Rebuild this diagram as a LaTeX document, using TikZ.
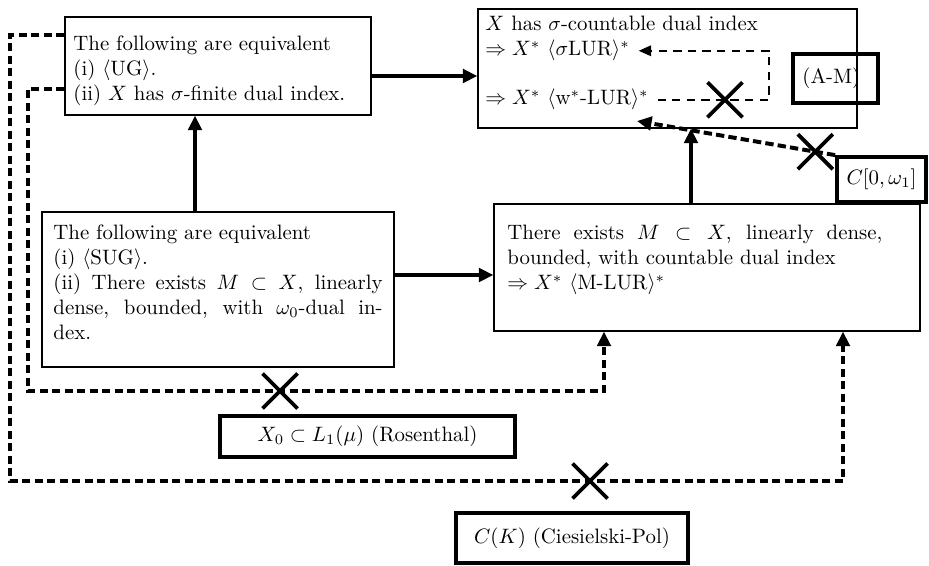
\documentclass[tikz,border=0pt]{standalone}
\usetikzlibrary{arrows.meta,shapes.misc,fit,calc}
\begin{document}
\begin{tikzpicture}[x=0.48pt,y=-0.48pt,
  box/.style={draw, line width=0.6pt, inner sep=0pt},
  thickbox/.style={draw, line width=1.8pt, inner sep=0pt},
  txt/.style={inner sep=0pt, align=left},
  partxt/.style={inner sep=0pt, align=justify, anchor=north west},
  solidarrow/.style={line width=2pt, -{Triangle[length=7pt,width=6.5pt]}},
  thickdash/.style={line width=1.9pt, dash pattern=on 4pt off 2pt, -{Triangle[length=7pt,width=6.5pt]}},
  thindash/.style={line width=1pt, dash pattern=on 4pt off 3pt, -{Triangle[length=6pt,width=5pt]}},
  xmark/.style={cross out, draw, line width=1.8pt, minimum size=15pt, inner sep=0pt},
]
\useasboundingbox (0,0) rectangle (929,566);

% main boxes
\node[box, fit={(65,17) (371,115)}] (ug) {};
\node[box, fit={(478,9) (857,128)}] (top) {};
\node[box, fit={(42,212) (394,367)}] (sug) {};
\node[box, fit={(494,204) (920,331)}] (mlur) {};

% label boxes
\node[thickbox, fit={(793,54) (878,103)}] (am) {};
\node[thickbox, fit={(837,157) (926,202)}] (cw) {};
\node[thickbox, fit={(220,416) (515,457)}] (ros) {};
\node[thickbox, fit={(456,513) (688,563)}] (ck) {};
\node[txt] (amt) at ([xshift=-2pt]am.center) {(A-M)};
\node[txt] (cwt) at (cw.center) {$C[0,\omega_1]$};
\node[txt] (rost) at (ros.center) {$X_0\subset L_1(\mu)$ (Rosenthal)};
\node[txt] (ckt) at (ck.center) {$C(K)$ (Ciesielski-Pol)};

% texts
\node[partxt, text width=150pt] (ugt) at (73,35)
  {The following are equivalent\\(i) $\langle$UG$\rangle$.\\(ii) $X$ has $\sigma$-finite dual index.};
\node[partxt, text width=158pt] (sugt) at (53,224)
  {The following are equivalent\\(i) $\langle$SUG$\rangle$.\\(ii) There exists $M\subset X$, linearly\linebreak dense, bounded, with $\omega_0$-dual in-\linebreak dex.};
\node[partxt, text width=180pt] (mlurt) at (507,225)
  {There exists $M\subset X$, linearly dense,\linebreak bounded, with countable dual index\\$\Rightarrow X^*$ $\langle$M-LUR$\rangle^*$};
\node[txt, anchor=base west] (t1) at (485,31) {$X$ has $\sigma$-countable dual index};
\node[txt, anchor=base west] (t2) at (485,56) {$\Rightarrow X^*$ $\langle\sigma$LUR$\rangle^*$};
\node[txt, anchor=base west] (t3) at (485,105) {$\Rightarrow X^*$ $\langle$w$^*$-LUR$\rangle^*$};

% helper coordinates
\coordinate (yA) at (0,76);
\coordinate (xB) at (195,0);
\coordinate (yC) at (0,275);
\coordinate (xD) at (691,0);
\coordinate (c1) at (28,89);
\coordinate (c2) at (28,391);
\coordinate (xF) at (604,0);
\coordinate (c3) at (10,35);
\coordinate (c4) at (10,481);
\coordinate (xG) at (843,0);
\coordinate (xH) at (725,0);
\coordinate (xI) at (769,0);
\coordinate (tipc) at (637,121);

% solid arrows
\draw[solidarrow] (ug.east |- yA) -- (top.west |- yA);
\draw[solidarrow] (sug.north -| xB) -- (ug.south -| xB);
\draw[solidarrow] (sug.east |- yC) -- (mlur.west |- yC);
\draw[solidarrow] (mlur.north -| xD) -- (top.south -| xD);

% dashed connectors
\draw[thickdash] (ug.west |- c1) -- (c1) -- (c2) -| (mlur.south -| xF);
\draw[thickdash] (ug.west |- c3) -- (c3) -- (c4) -| (mlur.south -| xG);
\draw[thindash] ([xshift=4pt]t3.east) -- (t3.east -| xI) -- (t2.east -| xI) -- ([xshift=4pt]t2.east);
\draw[thickdash] (cw.north west) -- (tipc);

% crosses
\node[xmark] (x1) at (280,391) {};
\node[xmark] (x2) at (590,481) {};
\node[xmark] (x3) at (t3.east -| xH) {};
\node[xmark] (x4) at ($(cw.north west)!0.1!(tipc)$) {};
\end{tikzpicture}
\end{document}
